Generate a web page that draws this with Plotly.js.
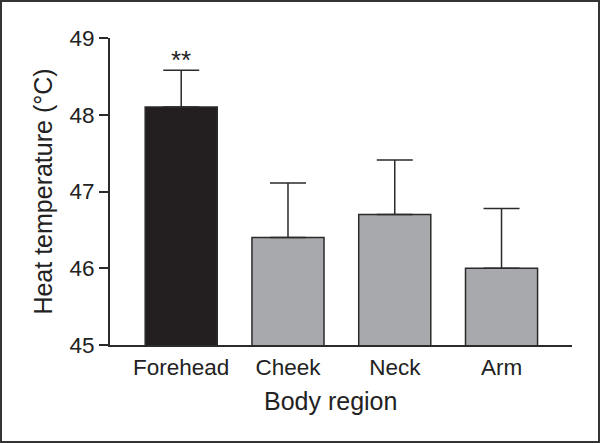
<!DOCTYPE html>
<html>
<head>
<meta charset="utf-8">
<script src="https://cdn.plot.ly/plotly-3.0.1.min.js"></script>
<style>
  body { margin: 0; background: #fff; }
  #wrap { position: relative; width: 600px; height: 443px; }
  #frame { position: absolute; left: 0; top: 0; width: 600px; height: 443px;
           box-sizing: border-box; border: 2px solid #333; pointer-events: none; }
</style>
</head>
<body>
<div id="wrap">
  <div id="heat-plot" style="width:600px;height:443px;"></div>
  <div id="frame"></div>
</div>
<script>
// ------------------------------------------------------------------------------
// DATA
const regions     = ['Forehead', 'Cheek', 'Neck', 'Arm'];
const temps       = [48.1, 46.4, 46.7, 46.0];
const temps_err   = [0.48, 0.71, 0.71, 0.78];
const bar_colors  = ['#231f20', '#a7a9ac', '#a7a9ac', '#a7a9ac'];
const y_ticks     = [45, 46, 47, 48, 49];
const signif_mark = '**';

const font_family = 'Liberation Sans, Arial, Helvetica, sans-serif';
const ink         = '#2b2b2b';

// ------------------------------------------------------------------------------
// TRACE
const bar_trace = {
    type: 'bar',
    x: regions,
    y: temps,
    marker: {
        color: bar_colors,
        line: { color: ink, width: 1.5 }
    },
    error_y: {
        type: 'data',
        symmetric: false,
        array: temps_err,
        arrayminus: temps.map(() => 0),
        color: ink,
        thickness: 1.5,
        width: 18
    },
    hoverinfo: 'none',
    showlegend: false
};

// ------------------------------------------------------------------------------
// LAYOUT
const layout = {
    width: 600,
    height: 443,
    paper_bgcolor: '#ffffff',
    plot_bgcolor: '#ffffff',
    margin: { l: 110, r: 28, t: 38, b: 98 },
    bargap: 0.325,
    font: { family: font_family, color: '#222', size: 22 },
    xaxis: {
        range: [-0.667, 3.66],
        showline: true,
        linecolor: ink,
        linewidth: 2,
        ticks: '',
        showgrid: false,
        zeroline: false,
        ticklabelstandoff: 1,
        tickfont: { size: 22.5 }
    },
    yaxis: {
        range: [45, 49],
        tickvals: y_ticks,
        showline: true,
        linecolor: ink,
        linewidth: 2,
        ticks: 'outside',
        ticklen: 9,
        tickwidth: 2,
        tickcolor: ink,
        showgrid: false,
        zeroline: false,
        ticklabelstandoff: 0,
        tickfont: { size: 22.5 },
        title: {
            text: 'Heat temperature (°C)',
            font: { size: 25 },
            standoff: 10
        }
    },
    annotations: [
        {
            // x axis title, sits a bit left of the plot centre in the original
            text: 'Body region',
            x: 0.4765,
            y: -0.182,
            xref: 'paper',
            yref: 'paper',
            xanchor: 'center',
            yanchor: 'middle',
            showarrow: false,
            font: { family: font_family, size: 25, color: '#222' }
        },
        {
            text: signif_mark,
            x: regions[0],
            y: temps[0] + temps_err[0],
            xref: 'x',
            yref: 'y',
            yanchor: 'bottom',
            yshift: -7,
            showarrow: false,
            font: { family: font_family, size: 26, color: '#222' }
        }
    ]
};

Plotly.newPlot('heat-plot', [bar_trace], layout, { displayModeBar: false, staticPlot: true });
</script>
</body>
</html>
